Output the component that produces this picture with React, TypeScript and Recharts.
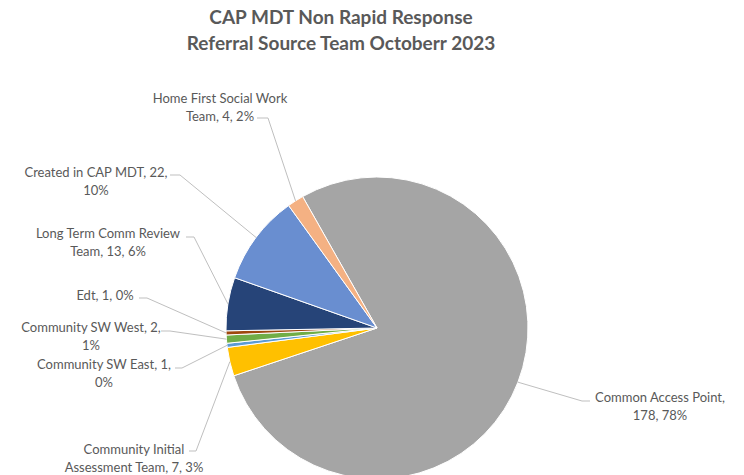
import React from 'react';
import { PieChart, Pie, Cell } from 'recharts';

// slice order runs clockwise, starting with the big grey slice
const names = [
  'Common Access Point',
  'Community Initial Assessment Team',
  'Community SW East',
  'Community SW West',
  'Edt',
  'Long Term Comm Review Team',
  'Created in CAP MDT',
  'Home First Social Work Team',
];
const values = [178, 7, 1, 2, 1, 13, 22, 4];
const colors = ['#A5A5A5', '#FFC000', '#5B9BD5', '#70AD47', '#9E480E', '#264478', '#698ED0', '#F4B183'];
const titleLines = ['CAP MDT Non Rapid Response', 'Referral Source Team Octoberr 2023'];

const data = names.map((name, i) => ({ name, value: values[i] }));

const RADIAN = Math.PI / 180;
const TEXT = '#595959';
const LEADER = '#BFBFBF';
const FONT = 'Lato, "Open Sans", sans-serif';

// where Excel placed each data label: text centre, first line y, words on the first line,
// and the leader dash (text end x, elbow x, y)
const labelLayout: Record<string, { x: number; y: number; breakAfter: number; lead: [number, number, number] }> = {
  'Common Access Point': { x: 660, y: 397, breakAfter: 3, lead: [590, 582, 401] },
  'Community Initial Assessment Team': { x: 134, y: 449, breakAfter: 2, lead: [189, 196, 451] },
  'Community SW East': { x: 104, y: 364, breakAfter: 4, lead: [175, 182, 368] },
  'Community SW West': { x: 91, y: 327, breakAfter: 4, lead: [161, 170, 331] },
  'Edt': { x: 105, y: 295, breakAfter: 9, lead: [139, 147, 298] },
  'Long Term Comm Review Team': { x: 108, y: 233, breakAfter: 4, lead: [186, 194, 237] },
  'Created in CAP MDT': { x: 96, y: 172, breakAfter: 5, lead: [170, 180, 175] },
  'Home First Social Work Team': { x: 220, y: 98, breakAfter: 4, lead: [257, 268, 118] },
};

const renderLabel = (props: any) => {
  const { cx, cy, midAngle, outerRadius, name, value, percent } = props;
  const layout = labelLayout[name];
  if (!layout) return null;
  const px = cx + outerRadius * Math.cos(-midAngle * RADIAN);
  const py = cy + outerRadius * Math.sin(-midAngle * RADIAN);
  const words = `${name}, ${value}, ${Math.round(percent * 100)}%`.split(' ');
  const lines = [words.slice(0, layout.breakAfter).join(' '), words.slice(layout.breakAfter).join(' ')].filter(
    (l) => l.length > 0
  );
  const [x1, x2, ly] = layout.lead;
  return (
    <g>
      <path d={`M${x1},${ly}L${x2},${ly}L${px},${py}`} stroke={LEADER} strokeWidth={1} fill="none" />
      <text x={layout.x} y={layout.y} textAnchor="middle" dominantBaseline="central" fill={TEXT} fontSize={13} fontFamily={FONT}>
        {lines.map((l, i) => (
          <tspan key={i} x={layout.x} dy={i === 0 ? 0 : 17.5}>
            {l}
          </tspan>
        ))}
      </text>
    </g>
  );
};

export default function App() {
  return (
    <div style={{ position: 'absolute', left: 0, top: 0, width: 744, height: 475, background: '#fff' }}>
      <div
        style={{
          position: 'absolute',
          left: 0,
          top: 4,
          width: 682,
          textAlign: 'center',
          fontFamily: FONT,
          fontWeight: 700,
          fontSize: 19,
          lineHeight: '26px',
          color: TEXT,
        }}
      >
        {titleLines.map((t) => (
          <div key={t}>{t}</div>
        ))}
      </div>
      <PieChart width={744} height={475} style={{ position: 'absolute', left: 0, top: 0 }}>
        <Pie
          data={data}
          dataKey="value"
          nameKey="name"
          cx={372}
          cy={323}
          outerRadius={151}
          startAngle={119.5}
          endAngle={-240.5}
          stroke="#fff"
          strokeWidth={1}
          label={renderLabel}
          labelLine={false}
          isAnimationActive={false}
        >
          {data.map((d, i) => (
            <Cell key={d.name} fill={colors[i]} />
          ))}
        </Pie>
      </PieChart>
    </div>
  );
}
